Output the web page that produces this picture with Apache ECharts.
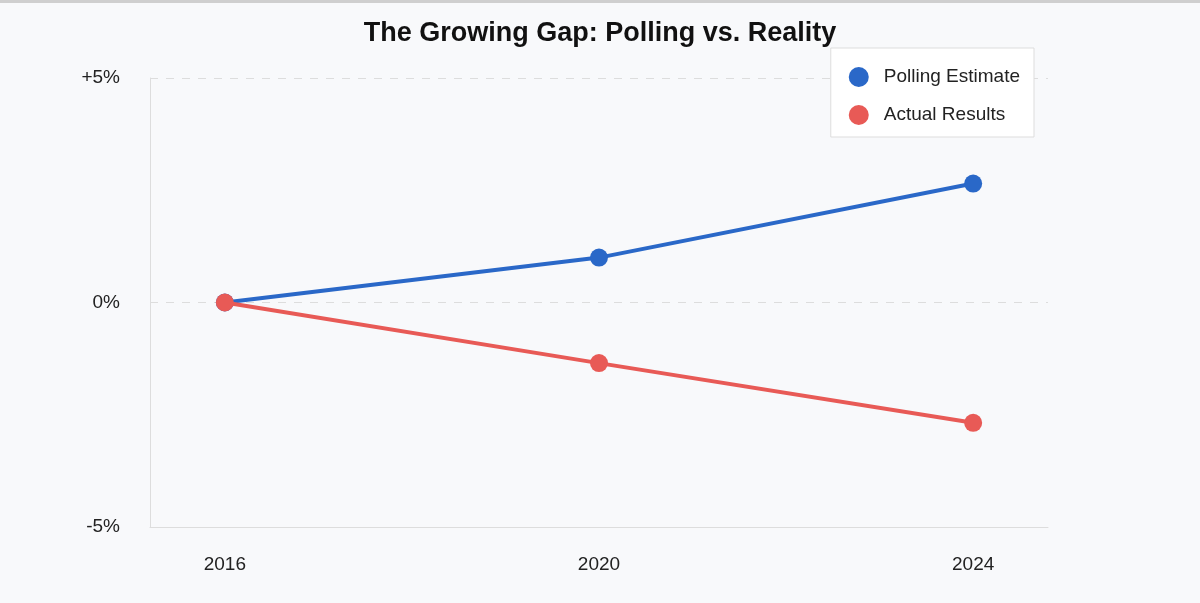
<!DOCTYPE html>
<html><head><meta charset="utf-8">
<script src="https://cdn.jsdelivr.net/npm/echarts@6/dist/echarts.min.js"></script>
<style>html,body{margin:0;padding:0;background:#f8f9fb;}#c{width:1200px;height:603px;border-top:3px solid #cfcfcf;box-sizing:border-box;}</style>
</head><body><div id="c"></div>
<script>
const years = [2016, 2020, 2024];
const polling = [0, 1.0, 2.65];
const actual = [0, -1.35, -2.68];
const yTicks = {5: '+5%', 0: '0%', '-5': '-5%'};

const chart = echarts.init(document.getElementById('c'));
const font = "'Liberation Sans', Arial, sans-serif";
chart.setOption({
  backgroundColor: '#f8f9fb',
  title: {text: 'The Growing Gap: Polling vs. Reality', left: 'center', top: 12,
    textStyle: {fontSize: 27, fontWeight: 'bold', color: '#111', fontFamily: font}},
  legend: {right: 166, top: 45, orient: 'vertical', backgroundColor: '#fff', borderColor: '#ddd', borderWidth: 1,
    padding: [19, 14, 12, 18], itemGap: 18, icon: 'circle', itemWidth: 20, itemHeight: 20,
    textStyle: {fontSize: 19, color: '#222', fontFamily: font, padding: [0, 0, 0, 10]},
    data: ['Polling Estimate', 'Actual Results']},
  grid: {left: 150, right: 152, top: 75, bottom: 76},
  xAxis: {type: 'value', min: 2015.2, max: 2024.8,
    axisLine: {onZero: false, lineStyle: {color: '#ddd'}}, axisTick: {show: false}, splitLine: {show: false},
    axisLabel: {customValues: years, formatter: v => String(v), fontSize: 19, color: '#222', fontFamily: font, margin: 28}},
  yAxis: {type: 'value', min: -5, max: 5, interval: 5,
    axisLine: {show: true, lineStyle: {color: '#ddd'}}, axisTick: {show: false},
    splitLine: {lineStyle: {type: [8, 8], color: '#ddd'}},
    axisLabel: {formatter: v => yTicks[v] ?? '', fontSize: 19, color: '#222', fontFamily: font, margin: 30}},
  series: [
    {name: 'Polling Estimate', type: 'line', data: years.map((y, i) => [y, polling[i]]),
     color: '#2a68c8', lineStyle: {width: 4}, symbol: 'circle', symbolSize: 18, z: 2},
    {name: 'Actual Results', type: 'line', data: years.map((y, i) => [y, actual[i]]),
     color: '#e85a56', lineStyle: {width: 4}, symbol: 'circle', symbolSize: 18, z: 3}
  ]
});
</script></body></html>
